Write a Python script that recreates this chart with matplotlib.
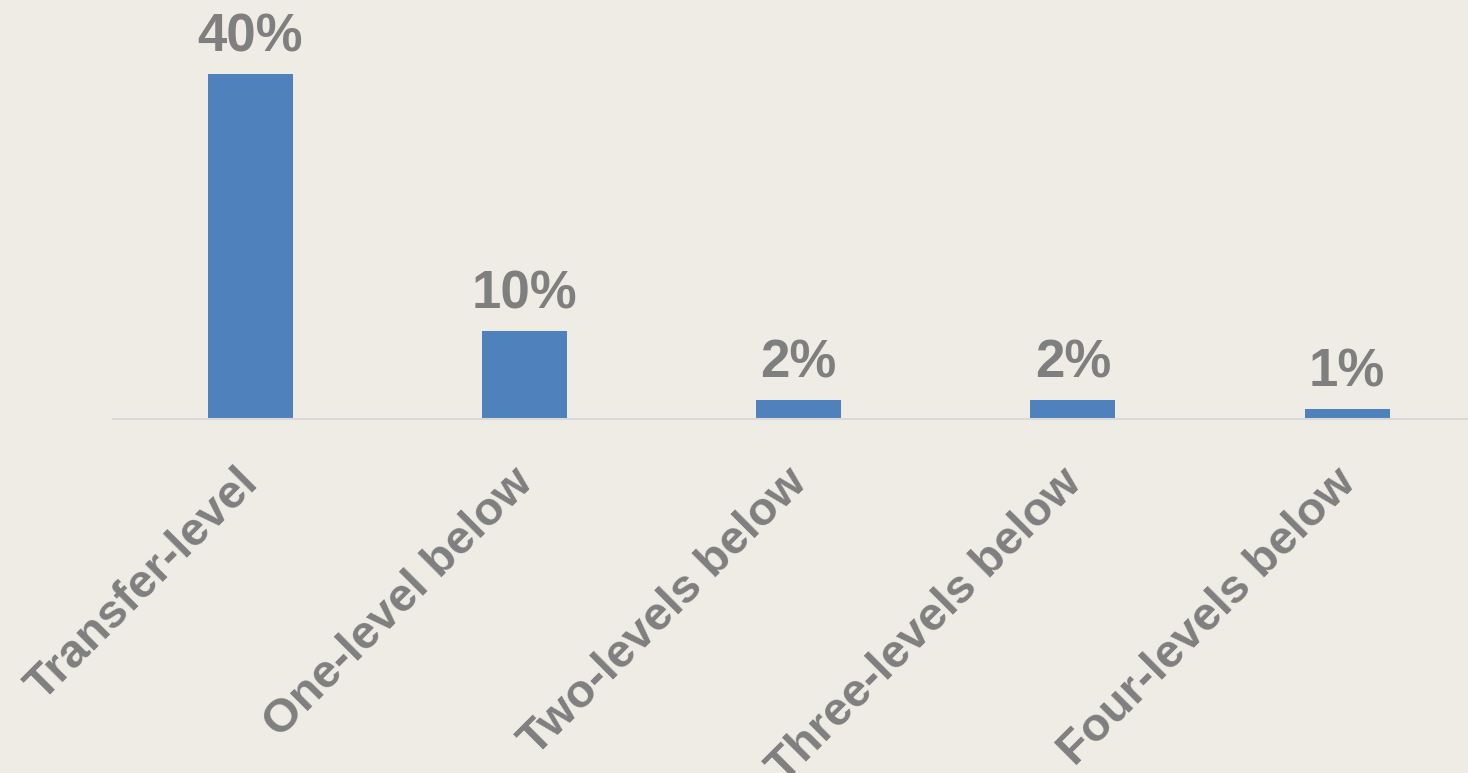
import matplotlib.pyplot as plt
from matplotlib.transforms import ScaledTranslation

categories = ["Transfer-level", "One-level below", "Two-levels below",
              "Three-levels below", "Four-levels below"]
values = [40.0, 10.2, 2.2, 2.2, 1.2]
labels = ["40%", "10%", "2%", "2%", "1%"]

bg = "#EEECE4"
bar_color = "#4F81BD"
text_color = "#7F7F7F"

plt.rcParams['font.family'] = ['Liberation Sans', 'DejaVu Sans']

fig = plt.figure(figsize=(14.68, 7.73), dpi=100)
fig.patch.set_facecolor(bg)
ax = fig.add_axes([113 / 1468, 354 / 773, 1 - 113 / 1468, 419 / 773])
ax.set_facecolor(bg)

x = range(len(categories))
ax.bar(x, values, width=0.31, color=bar_color, zorder=2)

for i, (v, lab) in enumerate(zip(values, labels)):
    ax.text(i, v + 1.3, lab, ha="center", va="bottom", fontsize=38,
            fontweight="bold", color=text_color)

ax.set_xlim(-0.5, (1468 - 249) / 274.5)
ax.set_ylim(0, 40 * 419 / 345)

for s in ["top", "right", "left"]:
    ax.spines[s].set_visible(False)
ax.spines["bottom"].set_color("#D9D9D9")
ax.spines["bottom"].set_linewidth(1.5)
ax.set_yticks([])
ax.set_xticks(list(x))
ax.set_xticklabels(categories, rotation=45, ha="right", va="top",
                   rotation_mode="anchor", fontsize=34, fontweight="bold",
                   color=text_color)
ax.tick_params(axis="x", length=0, pad=14)

# nudge the rotated labels to sit like the original
shift = ScaledTranslation(-0.14, -0.22, fig.dpi_scale_trans)
for lbl in ax.get_xticklabels():
    lbl.set_transform(lbl.get_transform() + shift)

fig.savefig("out.png", dpi=100, facecolor=bg)
